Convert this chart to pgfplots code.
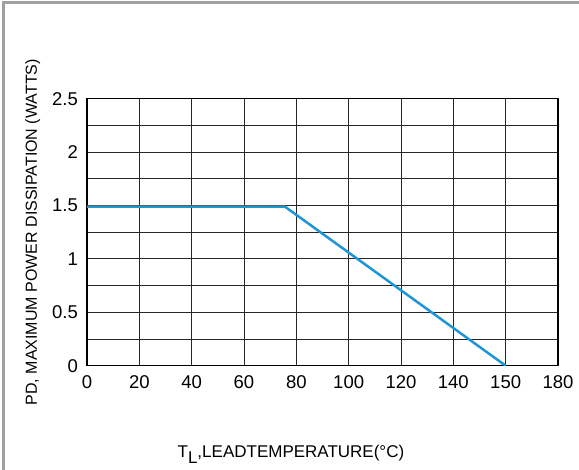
\documentclass[border=0pt]{standalone}
\usepackage{pgfplots}
\pgfplotsset{compat=1.18}
\usepackage{fontspec}
\setmainfont{Liberation Sans}
\definecolor{curve}{HTML}{1E96D6}
\definecolor{framegray}{HTML}{A0A0A0}
\begin{document}
\begin{tikzpicture}
\begin{axis}[name=ax, at={(0,0)}, anchor=south west,
  scale only axis, width=471pt, height=267pt,
  xmin=0, xmax=9, ymin=0, ymax=2.5,
  xtick={0,1,2,3,4,5,6,7,8,9},
  xticklabels={0,20,40,60,80,100,120,140,150,180},
  ytick={0,0.5,1,1.5,2,2.5},
  yticklabels={0,0.5,1,1.5,2,2.5},
  minor ytick={0.25,0.75,1.25,1.75,2.25},
  grid=both,
  major grid style={black!85, line width=0.8pt},
  minor grid style={black!85, line width=0.8pt},
  major tick length=0pt, minor tick length=0pt,
  axis line style={black, line width=1.2pt},
  tick label style={font=\fontsize{18.5}{20}\selectfont},
  xticklabel style={inner sep=0pt, anchor=north, yshift=-10pt},
  yticklabel style={inner sep=0pt, anchor=east, xshift=-9pt},
  xlabel={T\raisebox{-0.4em}{L},LEADTEMPERATURE(°C)},
  ylabel={PD, MAXIMUM POWER DISSIPATION (WATTS)},
  xlabel style={at={(axis description cs:0.433,-0.342)}, anchor=base, inner sep=0pt, font=\fontsize{17}{20}\selectfont},
  ylabel style={at={(axis description cs:-0.1062,0.5)}, anchor=base, inner sep=0pt, font=\fontsize{16}{20}\selectfont},
]
\addplot[curve, line width=2.5pt] coordinates {(0,1.49) (3.78,1.49) (8,0)};
\end{axis}
\draw[framegray, line width=3pt] (-83.5pt,-110pt) -- (-83.5pt,363.2pt) -- (500pt,363.2pt);
\pgfresetboundingbox
\path[use as bounding box] (-87pt,-104.3pt) rectangle (492pt,365.7pt);
\end{tikzpicture}
\end{document}
